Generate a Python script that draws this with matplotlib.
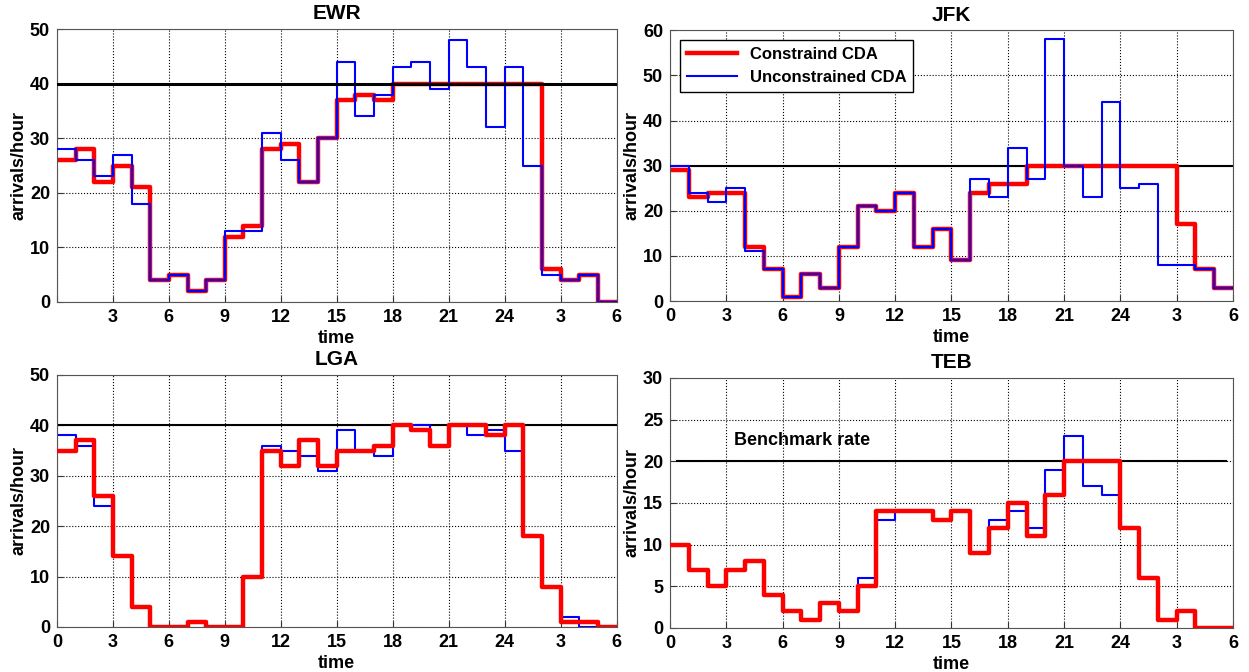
import numpy as np
import matplotlib
matplotlib.use("Agg")
import matplotlib.pyplot as plt

plt.rcParams['font.family'] = ['Liberation Sans', 'DejaVu Sans']
plt.rcParams['font.weight'] = 'bold'

# hourly arrival rates, hour 0 .. 29 (0h to 6h next day)
hours = np.arange(31)
tick_pos = np.arange(0, 31, 3)
tick_labels = ['0', '3', '6', '9', '12', '15', '18', '21', '24', '3', '6']

ewr_con = [26, 28, 22, 25, 21, 4, 5, 2, 4, 12, 14, 28, 29, 22, 30,
           37, 38, 37, 40, 40, 40, 40, 40, 40, 40, 40, 6, 4, 5, 0]
ewr_unc = [28, 26, 23, 27, 18, 4, 5, 2, 4, 13, 13, 31, 26, 22, 30,
           44, 34, 38, 43, 44, 39, 48, 43, 32, 43, 25, 5, 4, 5, 0]
ewr_bench = 40

jfk_con = [29, 23, 24, 24, 12, 7, 1, 6, 3, 12, 21, 20, 24, 12, 16,
           9, 24, 26, 26, 30, 30, 30, 30, 30, 30, 30, 30, 17, 7, 3]
jfk_unc = [30, 24, 22, 25, 11, 7, 1, 6, 3, 12, 21, 20, 24, 12, 16,
           9, 27, 23, 34, 27, 58, 30, 23, 44, 25, 26, 8, 8, 7, 3]
jfk_bench = 30

lga_con = [35, 37, 26, 14, 4, 0, 0, 1, 0, 0, 10, 35, 32, 37, 32,
           35, 35, 36, 40, 39, 36, 40, 40, 38, 40, 18, 8, 1, 1, 0]
lga_unc = [38, 36, 24, 14, 4, 0, 0, 1, 0, 0, 10, 36, 35, 34, 31,
           39, 35, 34, 40, 40, 36, 40, 38, 39, 35, 18, 8, 2, 0, 0]
lga_bench = 40

teb_con = [10, 7, 5, 7, 8, 4, 2, 1, 3, 2, 5, 14, 14, 14, 13,
           14, 9, 12, 15, 11, 16, 20, 20, 20, 12, 6, 1, 2, 0, 0]
teb_unc = [10, 7, 5, 7, 8, 4, 2, 1, 3, 2, 6, 13, 14, 14, 13,
           14, 9, 13, 14, 12, 19, 23, 17, 16, 12, 6, 1, 2, 0, 0]
teb_bench = 20

fig = plt.figure(figsize=(12.49, 6.72), dpi=100)
boxes = [
    [0.0456, 0.5506, 0.448, 0.406],
    [0.5364, 0.552, 0.4508, 0.403],
    [0.0456, 0.067, 0.448, 0.375],
    [0.5364, 0.0655, 0.4508, 0.372],
]
panels = [
    ("EWR", ewr_con, ewr_unc, ewr_bench, 50, 10, True, 2.2),
    ("JFK", jfk_con, jfk_unc, jfk_bench, 60, 10, True, 1.5),
    ("LGA", lga_con, lga_unc, lga_bench, 50, 10, False, 1.5),
    ("TEB", teb_con, teb_unc, teb_bench, 30, 5, False, 1.5),
]

for box, (name, con, unc, bench, ymax, ystep, blue_top, blw) in zip(boxes, panels):
    ax = fig.add_axes(box)
    zc = 3 if not blue_top else 2
    zu = 2 if not blue_top else 3
    ax.step(hours, np.append(con, con[-1]), where='post', color='red', lw=3.2,
            label='Constraind CDA', zorder=zc)
    ax.step(hours, np.append(unc, unc[-1]), where='post', color='blue', lw=1.5,
            label='Unconstrained CDA', zorder=zu)
    if name == "TEB":
        ax.plot([0.4, 29.6], [bench, bench], color='black', lw=blw, zorder=1.5)
        ax.text(3.4, 22, 'Benchmark rate', fontsize=13, fontweight='bold')
    else:
        ax.axhline(bench, color='black', lw=blw, zorder=4 if name == "EWR" else 1.5)
    ax.set_xlim(0, 30)
    ax.set_ylim(0, ymax)
    ax.set_xticks(tick_pos)
    labels = list(tick_labels)
    if name == "EWR":
        labels[0] = ''
    ax.set_xticklabels(labels)
    ax.set_yticks(np.arange(0, ymax + 1, ystep))
    ax.tick_params(direction='in', labelsize=13, length=4, color='#333333', pad=5)
    for lab in ax.get_xticklabels() + ax.get_yticklabels():
        lab.set_fontweight('bold')
    ax.grid(True, linestyle=':', color='black', lw=0.8)
    ax.set_axisbelow(True)
    for sp in ax.spines.values():
        sp.set_color('#555555')
    ax.set_title(name, fontsize=15, fontweight='bold', pad=7)
    ax.set_xlabel('time', fontsize=13, fontweight='bold', labelpad=3)
    ax.set_ylabel('arrivals/hour', fontsize=13, fontweight='bold', labelpad=2)
    if name == "JFK":
        leg = ax.legend(loc='upper left', fontsize=12, fancybox=False,
                        framealpha=1, edgecolor='black', handlelength=3,
                        borderaxespad=0.6)
        leg.get_frame().set_linewidth(1.0)
        for t in leg.get_texts():
            t.set_fontweight('bold')

fig.savefig('out.png', dpi=100)
